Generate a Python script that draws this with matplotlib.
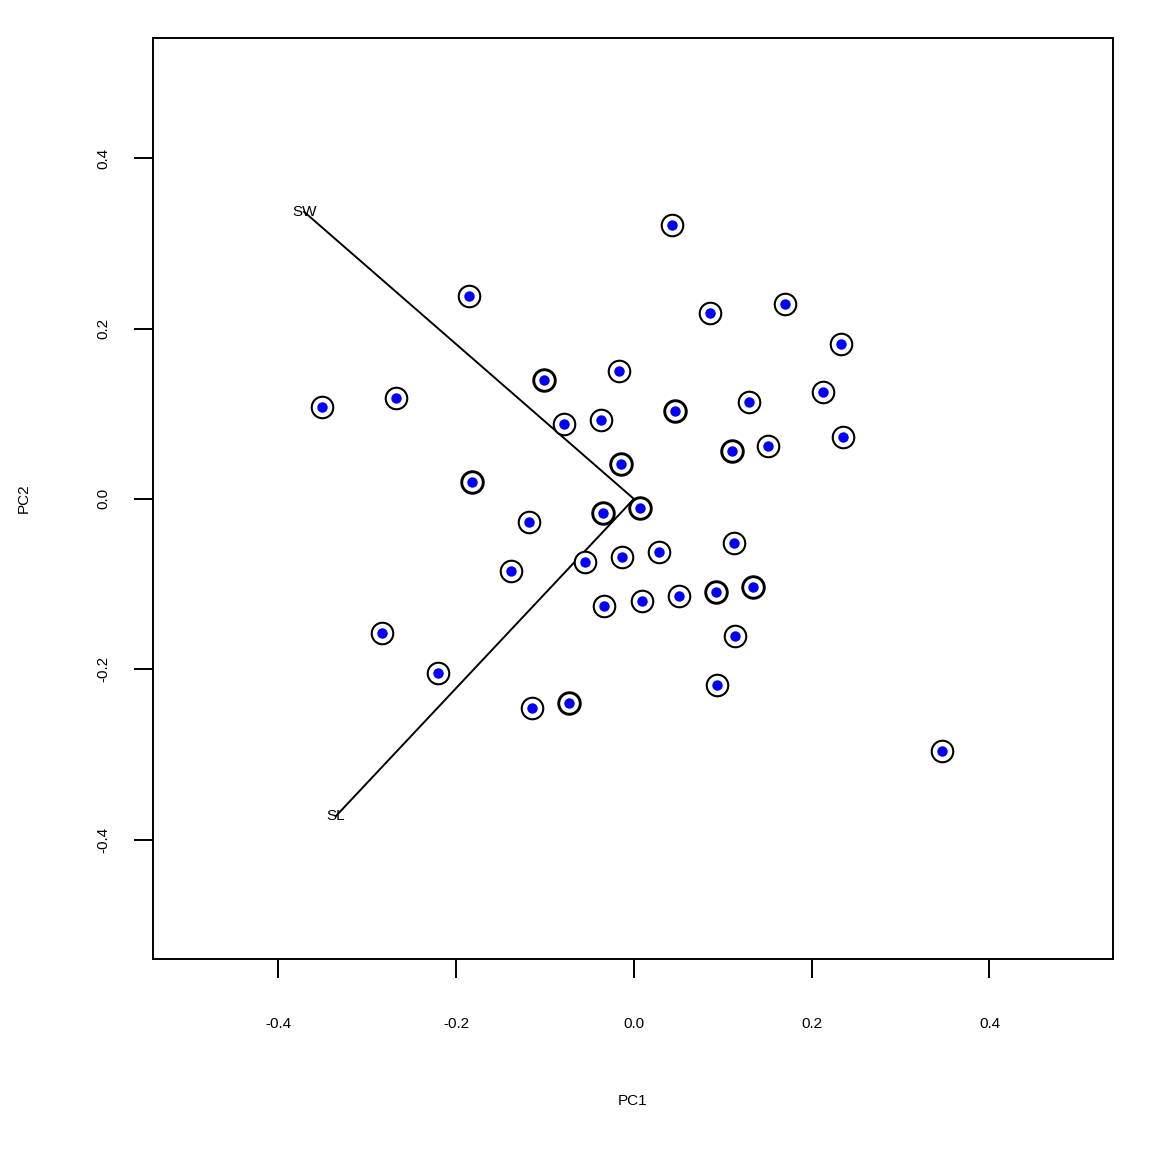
import matplotlib
matplotlib.use("Agg")
import matplotlib.pyplot as plt
import numpy as np

pc1 = [0.0428, -0.1857, 0.0855, 0.1699, 0.2329, -0.3511, -0.2678, -0.1013, -0.0169, -0.0788,
       -0.0371, 0.0461, 0.1294, 0.2127, 0.2352, 0.1508, 0.1103, -0.0146, -0.1823, -0.1181,
       -0.0349, 0.0068, -0.0551, -0.0135, 0.0281, 0.1125, -0.1384, -0.0338, 0.0090, 0.0506,
       0.0923, 0.1339, 0.1136, -0.2835, -0.2205, -0.1148, -0.0731, 0.0934, 0.3466]
pc2 = [0.3214, 0.2381, 0.2182, 0.2287, 0.1818, 0.1079, 0.1185, 0.1396, 0.1501, 0.0880,
       0.0927, 0.1032, 0.1138, 0.1255, 0.0727, 0.0622, 0.0563, 0.0411, 0.0199, -0.0270,
       -0.0164, -0.0106, -0.0739, -0.0680, -0.0622, -0.0516, -0.0845, -0.1255, -0.1196, -0.1138,
       -0.1091, -0.1032, -0.1607, -0.1572, -0.2041, -0.2452, -0.2393, -0.2182, -0.2956]
mult = [1, 1, 1, 1, 1, 1, 1, 2, 1, 1,
        1, 2, 1, 1, 1, 1, 2, 2, 2, 1,
        2, 2, 1, 1, 1, 1, 1, 1, 1, 1,
        2, 2, 1, 1, 1, 1, 2, 1, 1]

var_names = ["SW", "SL"]
load_x = [-0.371, -0.335]
load_y = [0.337, -0.372]

ticks = [-0.4, -0.2, 0.0, 0.2, 0.4]
tick_labels = ["-0.4", "-0.2", "0.0", "0.2", "0.4"]

fig = plt.figure(figsize=(11.52, 11.52), dpi=100)
ax = fig.add_axes([153/1152, 1 - 959/1152, (1113-153)/1152, (959-38)/1152])
ax.set_xlim(-0.541, 0.539)
ax.set_ylim(-0.540, 0.541)

pc1a = np.array(pc1); pc2a = np.array(pc2); m = np.array(mult)
for k, lw in [(1, 1.5), (2, 2.1)]:
    sel = m == k
    ax.plot(pc1a[sel], pc2a[sel], 'o', ms=15.5, mfc='white', mec='black', mew=lw, zorder=2)
ax.plot(pc1a, pc2a, 'o', ms=7.5, mfc='blue', mec='blue', mew=0, zorder=3)

for name, lx, ly in zip(var_names, load_x, load_y):
    ax.plot([0, lx], [0, ly], color='black', lw=1.4, zorder=1)
    ax.text(lx, ly, name, ha='center', va='center', fontsize=11, family='Liberation Sans')

for s in ax.spines.values():
    s.set_linewidth(1.4)

ax.set_xticks(ticks)
ax.set_xticklabels(tick_labels, fontsize=11, family='Liberation Sans')
ax.set_yticks(ticks)
ax.set_yticklabels(tick_labels, fontsize=11, family='Liberation Sans', rotation=90, va='center')
ax.tick_params(axis='both', length=14, width=1.4, direction='out')
ax.tick_params(axis='x', pad=28)
ax.tick_params(axis='y', pad=17)

ax.set_xlabel("PC1", fontsize=11, family='Liberation Sans', labelpad=45)
ax.set_ylabel("PC2", fontsize=11, family='Liberation Sans', labelpad=47)

fig.savefig("out.png", dpi=100, facecolor='white')
